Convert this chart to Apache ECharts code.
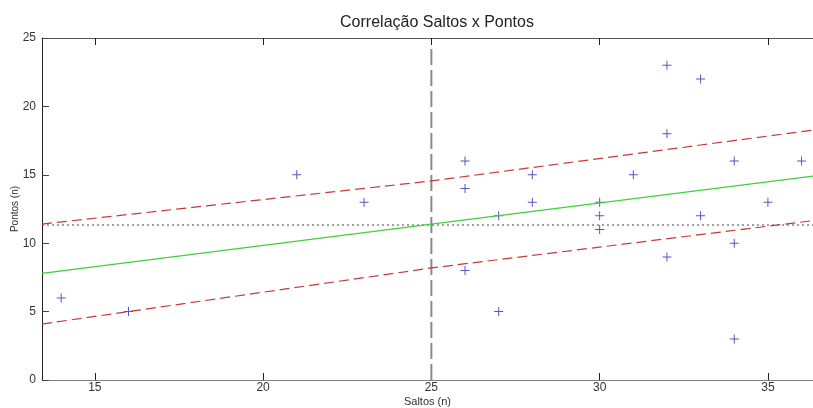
<!DOCTYPE html>
<html>
<head>
<meta charset="utf-8">
<script src="https://cdn.jsdelivr.net/npm/echarts@6/dist/echarts.min.js"></script>
<style>
html,body{margin:0;padding:0;background:#fff;}
#grafico{width:813px;height:408px;}
</style>
</head>
<body>
<div id="grafico"></div>
<script>
// pontos observados (saltos, pontos)
var saltos=[14,16,21,23,26,26,26,27,27,28,28,30,30,30,31,32,32,32,33,33,34,34,34,35,36];
var pontos=[6,5,15,13,16,14,8,12,5,15,13,13,12,11,15,23,18,9,22,12,16,10,3,13,16];
// limites do eixo x
var xMin=13.43, xMax=36.34;
var xTicks=[15,20,25,30,35];
// reta de regressao e limites (valores em xMin, 25, xMax)
var linhaX=[13.43,25,36.34];
var ajuste=[7.8,11.39,14.9];
var limSup=[11.4,14.55,18.27];
var limInf=[4.09,8.19,11.65];
// linhas de referencia
var mediaY=11.33;
var refX=25, refTopo=24.5;

function pares(xs,ys){
    var r=[];
    for(var i=0;i<xs.length;i++){ r.push([xs[i],ys[i]]); }
    return r;
}

var mychart=echarts.init(document.getElementById('grafico'));
var fonte='"Liberation Sans", Arial, sans-serif';
var option={
    animation:false,
    title:{
        text:'Correlação Saltos x Pontos',
        left:432, top:10, textAlign:'center',
        textStyle:{fontFamily:fonte,fontSize:16,fontWeight:'normal',color:'#222'}
    },
    grid:{left:42,right:0,top:38,bottom:28,containLabel:false,outerBoundsMode:'none'},
    xAxis:[{
        type:'value', min:xMin, max:xMax,
        name:'Saltos (n)', nameLocation:'middle', nameGap:16, nameMoveOverlap:false,
        nameTextStyle:{fontFamily:fonte,fontSize:11,color:'#333'},
        splitLine:{show:false},
        axisLine:{show:true,lineStyle:{color:'#808080',width:1}},
        axisTick:{show:true,inside:true,length:7,customValues:xTicks,lineStyle:{color:'#222'}},
        axisLabel:{customValues:xTicks,margin:2,fontFamily:fonte,fontSize:12,color:'#333'}
    },{
        type:'value', position:'top', min:xMin, max:xMax,
        splitLine:{show:false},
        axisLine:{show:true,lineStyle:{color:'#555',width:1}},
        axisTick:{show:true,inside:true,length:7,customValues:xTicks,lineStyle:{color:'#222'}},
        axisLabel:{show:false,customValues:xTicks}
    }],
    yAxis:{
        type:'value', min:0, max:25, interval:5,
        name:'Pontos (n)', nameLocation:'middle', nameGap:22, nameMoveOverlap:false,
        nameTextStyle:{fontFamily:fonte,fontSize:10,color:'#333'},
        splitLine:{show:false},
        axisLine:{show:true,lineStyle:{color:'#222',width:1}},
        axisTick:{show:true,inside:true,length:7,lineStyle:{color:'#444'}},
        axisLabel:{margin:6,fontFamily:fonte,fontSize:12,color:'#333'}
    },
    series:[{
        type:'line', data:[[refX,0],[refX,refTopo]],
        symbol:'none', silent:true,
        lineStyle:{color:'#8a8a8a',width:2,type:[16,5]}
    },{
        type:'line', data:[[xMin,mediaY],[xMax,mediaY]],
        symbol:'none', silent:true,
        lineStyle:{color:'#444',width:1,type:[2,3]}
    },{
        type:'line', data:pares(linhaX,limSup),
        symbol:'none', silent:true,
        lineStyle:{color:'#c43a3a',width:1.2,type:[10,5]}
    },{
        type:'line', data:pares(linhaX,limInf),
        symbol:'none', silent:true,
        lineStyle:{color:'#c43a3a',width:1.2,type:[10,5]}
    },{
        type:'line', data:pares(linhaX,ajuste),
        symbol:'none', silent:true,
        lineStyle:{color:'#3fcf3f',width:1.2}
    },{
        type:'scatter', data:pares(saltos,pontos),
        symbol:'path://M4,0h1v9h-1zM0,4h9v1h-9z', symbolSize:9,
        itemStyle:{color:'#2a2ab8'}
    }]
};
mychart.setOption(option);
</script>
</body>
</html>
